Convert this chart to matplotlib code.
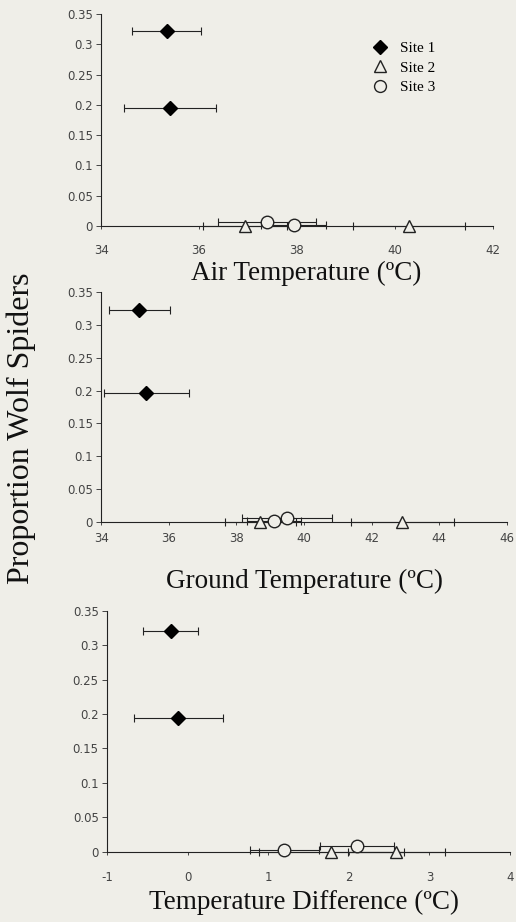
import matplotlib
matplotlib.use('Agg')
import matplotlib.pyplot as plt
import numpy as np

# panel 1: air temperature
air_site1_x = [35.34, 35.41]
air_site1_y = [0.322, 0.195]
air_site1_err = [0.71, 0.94]
air_site2_x = [36.94, 40.29]
air_site2_y = [0.0, 0.0]
air_site2_err = [0.85, 1.14]
air_site3_x = [37.38, 37.93]
air_site3_y = [0.007, 0.002]
air_site3_err = [1.0, 0.67]

# panel 2: ground temperature
gnd_site1_x = [35.13, 35.33]
gnd_site1_y = [0.322, 0.196]
gnd_site1_err = [0.91, 1.26]
gnd_site2_x = [38.70, 42.90]
gnd_site2_y = [0.0, 0.0]
gnd_site2_err = [1.05, 1.52]
gnd_site3_x = [39.10, 39.49]
gnd_site3_y = [0.002, 0.006]
gnd_site3_err = [0.80, 1.33]

# panel 3: temperature difference
dif_site1_x = [-0.21, -0.115]
dif_site1_y = [0.320, 0.194]
dif_site1_err = [0.34, 0.55]
dif_site2_x = [1.78, 2.59]
dif_site2_y = [0.0, 0.0]
dif_site2_err = [0.90, 0.60]
dif_site3_x = [1.20, 2.10]
dif_site3_y = [0.002, 0.008]
dif_site3_err = [0.43, 0.46]

y_ticks = [0, 0.05, 0.1, 0.15, 0.2, 0.25, 0.3, 0.35]
y_ticklabels = ['0', '0.05', '0.1', '0.15', '0.2', '0.25', '0.3', '0.35']

bg = '#efeee8'
ink = '#222222'

plt.rcParams['axes.unicode_minus'] = False
plt.rcParams['font.family'] = ['DejaVu Sans']

fig = plt.figure(figsize=(5.16, 9.22), dpi=100, facecolor=bg)

# rect, x range, tick pad, label position (axes fraction x, pixels below axis)
panels = [
    dict(rect=[0.196, 0.7549, 0.759, 0.2299], xlim=(34, 42), xticks=range(34, 43, 2),
         pad=10.5, lab_x=0.523, lab_off=47,
         label='Air Temperature (\u00baC)',
         data=[(air_site1_x, air_site1_y, air_site1_err),
               (air_site2_x, air_site2_y, air_site2_err),
               (air_site3_x, air_site3_y, air_site3_err)]),
    dict(rect=[0.196, 0.4335, 0.7866, 0.2501], xlim=(34, 46), xticks=range(34, 47, 2),
         pad=4.5, lab_x=0.5, lab_off=59,
         label='Ground Temperature (\u00baC)',
         data=[(gnd_site1_x, gnd_site1_y, gnd_site1_err),
               (gnd_site2_x, gnd_site2_y, gnd_site2_err),
               (gnd_site3_x, gnd_site3_y, gnd_site3_err)]),
    dict(rect=[0.2074, 0.0763, 0.781, 0.2613], xlim=(-1, 4), xticks=range(-1, 5),
         pad=11.5, lab_x=0.49, lab_off=51,
         label='Temperature Difference (\u00baC)',
         data=[(dif_site1_x, dif_site1_y, dif_site1_err),
               (dif_site2_x, dif_site2_y, dif_site2_err),
               (dif_site3_x, dif_site3_y, dif_site3_err)]),
]

styles = [
    dict(marker='D', ms=7.5, mfc='black', mec='black', label='Site 1'),
    dict(marker='^', ms=9, mfc=bg, mec=ink, mew=1.0, label='Site 2'),
    dict(marker='o', ms=9, mfc=bg, mec=ink, mew=1.0, label='Site 3'),
]

for i, p in enumerate(panels):
    ax = fig.add_axes(p['rect'])
    ax.set_facecolor(bg)
    for (x, y, err), st in zip(p['data'], styles):
        ax.errorbar(x, y, xerr=err, fmt='none', ecolor=ink, elinewidth=0.8,
                    capsize=3, capthick=0.8, zorder=2, clip_on=False)
        ax.plot(x, y, linestyle='none', zorder=3, clip_on=False, **st)
    ax.set_xlim(*p['xlim'])
    ax.set_ylim(0, 0.35)
    ax.set_xticks(list(p['xticks']))
    ax.set_yticks(y_ticks)
    ax.set_yticklabels(y_ticklabels)
    for s in ['top', 'right']:
        ax.spines[s].set_visible(False)
    for s in ['left', 'bottom']:
        ax.spines[s].set_linewidth(0.8)
        ax.spines[s].set_color(ink)
    ax.tick_params(axis='both', labelsize=8.5, colors='#444444', width=0.7)
    ax.tick_params(axis='y', length=3.5, pad=2.5)
    ax.tick_params(axis='x', length=2.5, pad=p['pad'])
    ax.set_xlabel(p['label'], family='Liberation Serif', fontsize=19.5,
                  color='#111111', va='center')
    h_px = p['rect'][3] * 922
    ax.xaxis.set_label_coords(p['lab_x'], -p['lab_off'] / h_px)
    if i == 0:
        ax.legend(loc='upper left', bbox_to_anchor=(0.678, 0.90), frameon=False,
                  prop={'family': 'Liberation Serif', 'size': 11},
                  handletextpad=0.8, labelspacing=0.38, handlelength=1.0,
                  markerscale=0.95, borderaxespad=0)

fig.text(0.041, 0.536, 'Proportion Wolf Spiders', rotation=90, ha='center',
         va='center', family='Liberation Serif', fontsize=23, color='#111111')

fig.savefig('out.png', dpi=100, facecolor=bg)
